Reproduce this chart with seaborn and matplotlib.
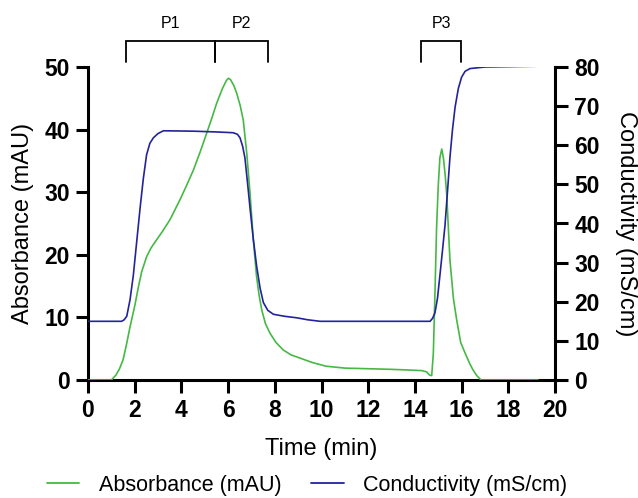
import matplotlib
matplotlib.use("Agg")
import matplotlib.pyplot as plt
import seaborn as sns
from matplotlib.lines import Line2D

# ---------------- data ----------------
time_abs = [0, 1.0, 1.2, 1.35, 1.5, 1.65, 1.8, 2.0, 2.16, 2.3, 2.51, 2.7, 2.94, 3.2, 3.51,
            3.94, 4.2, 4.51, 4.8, 5.08, 5.3, 5.51, 5.75, 5.92, 6.01, 6.1, 6.25, 6.37, 6.52,
            6.65, 6.8, 6.94, 7.08, 7.22, 7.33, 7.44, 7.6, 7.79, 8.05, 8.36, 8.7, 9.08, 9.6,
            10.2, 11.0, 12.0, 13.0, 13.7, 14.3, 14.5, 14.62, 14.72, 14.79, 14.86, 14.93,
            15.0, 15.07, 15.15, 15.22, 15.29, 15.36, 15.5, 15.65, 15.79, 15.96, 16.15,
            16.35, 16.49, 16.65, 16.83, 19.27]
absorbance = [0, 0, 0.8, 1.8, 3.2, 5.7, 8.5, 11.8, 14.9, 17.3, 19.7, 21.1, 22.4, 23.8, 25.6,
              28.8, 30.9, 33.5, 36.4, 39.4, 41.8, 44.2, 46.5, 47.8, 48.2, 48.0, 47.0, 45.8, 43.8,
              41.5, 36.2, 29.8, 22.4, 16.5, 13.5, 11.2, 9.0, 7.5, 6.0, 4.8, 4.0, 3.5, 2.8,
              2.2, 1.9, 1.8, 1.7, 1.6, 1.5, 1.3, 0.8, 0.7, 4.3, 14.0, 24.5,
              31.0, 35.5, 36.9, 35.5, 33.0, 29.8, 19.2, 13.0, 9.6, 6.0, 4.3,
              2.6, 1.6, 0.7, 0.0, 0.0]

time_cond = [0, 1.44, 1.55, 1.66, 1.8, 1.94, 2.08, 2.23, 2.37, 2.51, 2.65, 2.8, 3.0, 3.23,
             4.5, 5.5, 6.22, 6.4, 6.51, 6.62, 6.72, 6.83, 6.94, 7.08, 7.22, 7.37, 7.51, 7.7,
             7.94, 8.4, 8.94, 9.4, 9.94, 14.65, 14.76, 14.86, 14.97, 15.07, 15.18, 15.29,
             15.4, 15.5, 15.61, 15.72, 15.86, 16.0, 16.15, 16.36, 17.0, 19.2]
conductivity = [15.0, 15.0, 15.4, 16.3, 20.5, 26.7, 35.0, 43.9, 51.5, 57.6, 60.5, 61.9, 63.0, 63.7,
                63.6, 63.4, 63.2, 62.8, 61.9, 59.8, 56.8, 50.5, 43.9, 36.0, 29.2, 23.5, 19.8, 17.8,
                16.8, 16.3, 15.9, 15.4, 15.0, 15.0, 15.8, 17.2, 21.0, 26.7, 33.0, 39.6,
                48.5, 56.8, 64.0, 69.7, 74.5, 77.4, 78.9, 79.6, 80.0, 80.2]

# fraction brackets (start, end in min)
fraction_labels = ["P1", "P2", "P3"]
fraction_start = [1.63, 5.44, 14.28]
fraction_end = [5.44, 7.71, 15.98]

x_ticks = list(range(0, 21, 2))
abs_ticks = [0, 10, 20, 30, 40, 50]
cond_ticks = [0, 10, 20, 30, 40, 50, 60, 70, 80]

GREEN = "#45b944"
BLUE = "#23239c"

# ---------------- style ----------------
sns.set_style("ticks")
plt.rcParams["font.family"] = ["Liberation Sans", "DejaVu Sans"]
for k in ["text.color", "axes.labelcolor", "xtick.color", "ytick.color", "axes.edgecolor"]:
    plt.rcParams[k] = "black"

fig = plt.figure(figsize=(6.38, 4.98), dpi=100)
W, H = 638, 498
ax = fig.add_axes([88 / W, 1 - 380 / H, (555 - 88) / W, (380 - 67) / H])
ax2 = ax.twinx()

sns.lineplot(x=time_abs, y=absorbance, ax=ax, color=GREEN, linewidth=1.2,
             legend=False, zorder=3)
sns.lineplot(x=time_cond, y=conductivity, ax=ax2, color=BLUE, linewidth=1.2,
             legend=False, zorder=2)

ax.set_xlim(0, 20)
ax.set_ylim(0, 50)
ax2.set_ylim(0, 80)
ax.set_xticks(x_ticks)
ax.set_yticks(abs_ticks)
ax2.set_yticks(cond_ticks)

lw = 2.2
for s in ["top", "right"]:
    ax.spines[s].set_visible(False)
for s in ["top", "left", "bottom"]:
    ax2.spines[s].set_visible(False)
for s in ["left", "bottom"]:
    ax.spines[s].set_linewidth(lw)
    ax.spines[s].set_color("black")
ax2.spines["right"].set_linewidth(lw)
ax2.spines["right"].set_color("black")

ax.tick_params(axis="both", direction="out", length=9, width=lw, colors="black",
               labelsize=16.5, pad=4)
ax.tick_params(axis="x", pad=5)
ax2.tick_params(axis="y", direction="out", length=9, width=lw, colors="black",
                labelsize=16.5, pad=5)
for lab in ax.get_xticklabels() + ax.get_yticklabels() + ax2.get_yticklabels():
    lab.set_fontweight("bold")

ax.set_xlabel("Time (min)", fontsize=17, color="black")
ax.set_ylabel("Absorbance (mAU)", fontsize=17, color="black")
ax2.set_ylabel("Conductivity (mS/cm)", fontsize=17, rotation=270, color="black")
ax.xaxis.set_label_coords(0.5, -0.22)
ax.xaxis.label.set_va("center")
ax.yaxis.set_label_coords((23 - 88) / 467, 0.5)
ax.yaxis.label.set_va("center")
ax2.yaxis.set_label_coords((626 - 88) / 467, 0.5)
ax2.yaxis.label.set_va("center")

# fraction brackets above plot
top_y, leg_y, lab_y = 54.2, 50.8, 56.9
for name, s, e in zip(fraction_labels, fraction_start, fraction_end):
    ax.plot([s, s, e, e], [leg_y, top_y, top_y, leg_y], color="black", lw=1.3,
            clip_on=False, solid_joinstyle="miter")
    ax.text((s + e) / 2, lab_y, name, ha="center", va="center", fontsize=11.5,
            color="black")

handles = [Line2D([], [], color=GREEN, lw=1.3), Line2D([], [], color=BLUE, lw=1.3)]
leg = fig.legend(handles, ["Absorbance (mAU)", "Conductivity (mS/cm)"], loc="center",
                 bbox_to_anchor=(307 / W, 13 / H), ncol=2, frameon=False, fontsize=15.5,
                 handlelength=1.5, handletextpad=0.9, columnspacing=1.4)
for t in leg.get_texts():
    t.set_color("black")

fig.savefig("out.png", dpi=100)
